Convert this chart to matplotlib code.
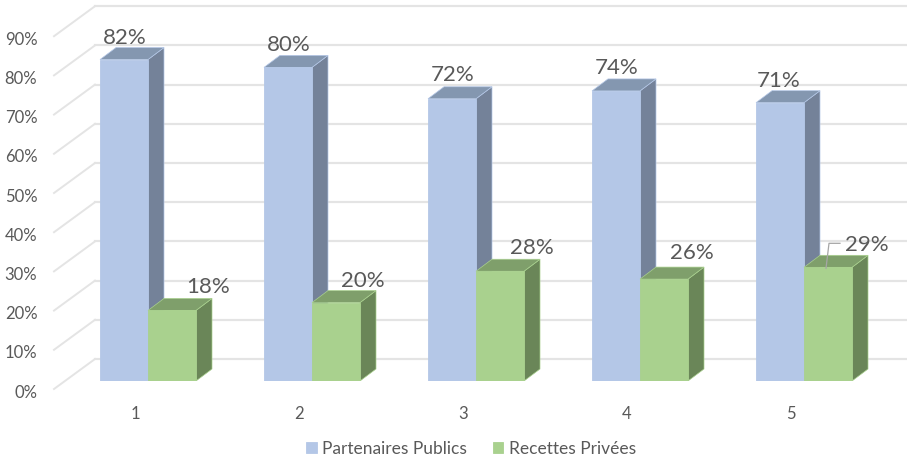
import matplotlib
matplotlib.use('Agg')
import matplotlib.pyplot as plt
from matplotlib.patches import Polygon
from matplotlib.transforms import ScaledTranslation

plt.rcParams['font.family'] = ['Lato', 'DejaVu Sans']

categories = [1, 2, 3, 4, 5]
publics = [82, 80, 72, 74, 71]
privees = [18, 20, 28, 26, 29]
y_ticks = [0, 10, 20, 30, 40, 50, 60, 70, 80, 90]

# label offsets from the bar's top centre, in pixels
publics_offsets = [(1, 22), (1, 22), (1, 24), (1, 23), (-1, 22)]
privees_offsets = [(36, 23), (27, 22), (32, 23), (28, 26), (39, 22)]

W, H = 907, 458
LEFT, FLOOR = 54, 381
PX_PER_X = 164.0
PX_PER_PCT = 3.92
BAR_W = 48 / PX_PER_X
DX = 16 / PX_PER_X
DY = 12 / PX_PER_PCT
TEXT = '#595959'

fig = plt.figure(figsize=(W / 100, H / 100), dpi=100)
ax = fig.add_axes([LEFT / W, (H - FLOOR) / H, (W - LEFT) / W, FLOOR / H])
ax.set_xlim(1 + (LEFT - 148) / PX_PER_X, 1 + (W - 148) / PX_PER_X)
ax.set_ylim(0, FLOOR / PX_PER_PCT)
for s in ax.spines.values():
    s.set_visible(False)


def px(dx, dy):
    # pixel distance to data distance
    return dx / PX_PER_X, dy / PX_PER_PCT


# back wall and the slanted side wall
x0 = ax.get_xlim()[0]
x1 = ax.get_xlim()[1]
for v in y_ticks:
    bx, by = px(41, 22)
    fy = px(0, 8)[1]
    ax.plot([x0 + bx, x1], [v + by, v + by], color='#E4E4E4', lw=1.6, zorder=1)
    ax.plot([x0, x0 + bx], [v - fy, v + by], color='#E4E4E4', lw=1.4, zorder=1,
            clip_on=False)


def bar3d(x, h, front, side, top, label, z):
    b = ax.bar(x, h, BAR_W, align='edge', color=front, edgecolor=front, lw=0.6,
               zorder=z + 0.2, label=label)
    ax.add_patch(Polygon([(x + BAR_W, 0), (x + BAR_W + DX, DY), (x + BAR_W + DX, h + DY), (x + BAR_W, h)],
                         facecolor=side, edgecolor=front, lw=0.5, zorder=z))
    ax.add_patch(Polygon([(x, h), (x + DX, h + DY), (x + BAR_W + DX, h + DY), (x + BAR_W, h)],
                         facecolor=top, edgecolor=front, lw=0.5, zorder=z + 0.1))
    return b


for i, c in enumerate(categories):
    bar3d(c - BAR_W, publics[i], '#B4C7E7', '#748299', '#8497B0',
          'Partenaires Publics' if i == 0 else None, 2 + i)
    bar3d(c, privees[i], '#A9D18E', '#6A8658', '#7F9F6B',
          'Recettes Privées' if i == 0 else None, 2.5 + i)
    ax.annotate(f'{publics[i]}%', (c - BAR_W / 2, publics[i]), xytext=publics_offsets[i],
                textcoords='offset pixels', ha='center', va='center', fontsize=16,
                color=TEXT, zorder=20)
    ax.annotate(f'{privees[i]}%', (c + BAR_W / 2, privees[i]), xytext=privees_offsets[i],
                textcoords='offset pixels', ha='center', va='center', fontsize=16,
                color=TEXT, zorder=20)

# leader line of the last label
lx = categories[4] + BAR_W / 2
ly = privees[4]
ax.plot([lx - 2 / PX_PER_X, lx + 1 / PX_PER_X, lx + 12 / PX_PER_X],
        [ly - 1 / PX_PER_PCT, ly + 24 / PX_PER_PCT, ly + 24 / PX_PER_PCT],
        color='#A6A6A6', lw=0.9, zorder=21)

ax.set_yticks(y_ticks)
ax.set_yticklabels([f'{v}%' for v in y_ticks])
ax.set_xticks(categories)
ax.set_xticklabels([str(c) for c in categories])
ax.tick_params(axis='both', length=0, labelsize=12, labelcolor=TEXT)
ax.tick_params(axis='y', pad=12)
ax.tick_params(axis='x', pad=18)

y_shift = ScaledTranslation(0, -10 / fig.dpi, fig.dpi_scale_trans)
x_shift = ScaledTranslation(-13 / fig.dpi, 0, fig.dpi_scale_trans)
for t in ax.get_yticklabels():
    t.set_transform(t.get_transform() + y_shift)
for t in ax.get_xticklabels():
    t.set_transform(t.get_transform() + x_shift)

ax.legend(loc='center', bbox_to_anchor=(471 / W, 9 / H), bbox_transform=fig.transFigure,
          ncol=2, frameon=False, fontsize=12.5, labelcolor=TEXT, handlelength=0.6,
          handleheight=0.6, handletextpad=0.3, columnspacing=1.5)

fig.savefig('out.png', dpi=100)
